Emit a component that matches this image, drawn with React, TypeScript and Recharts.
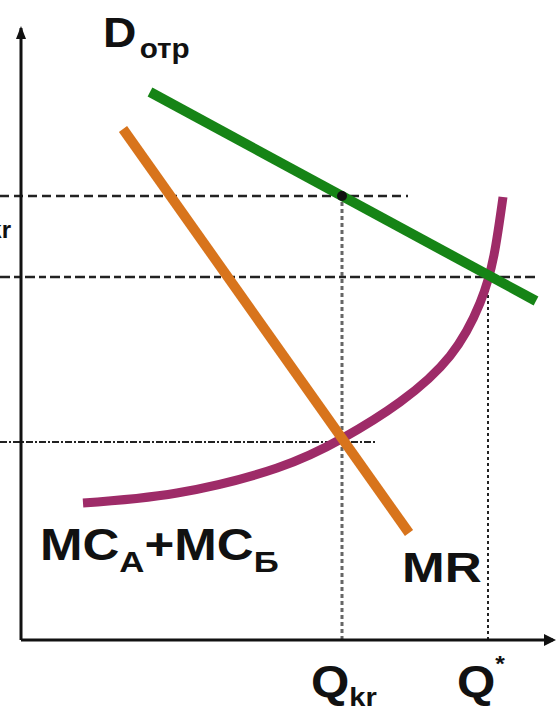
import React from "react";
import { ComposedChart, Line, XAxis, YAxis, ReferenceLine, ReferenceDot } from "recharts";

// units: quantity Q on x, price P on y
const demandQ = [25.8, 103];
const demandP = [109.6, 67.8];

const mrQ = [20.4, 77.6];
const mrP = [102.2, 21.4];

const mcQ = [12.4, 31.2, 51.2, 64.4, 75.8, 85.8, 91.8, 94.6, 96.4];
const mcP = [27.4, 29.4, 34.4, 40.4, 47.6, 56.8, 67.4, 77, 88.6];

const qTicks = [64.2, 93.4];
const qSubs = ["kr", "*"];

const pKr = 88.8; // price at Q_kr on demand
const pStar = 72.6; // price at Q*
const mcAtKr = 39.6; // MC = MR at Q_kr

const toRows = (q: number[], p: number[]) => q.map((v, i) => ({ q: v, p: p[i] }));

const FONT = "'Liberation Sans', Arial, sans-serif";
const DASH = "#222";

const QTick = (props: any) => {
  const { x, y, payload } = props;
  const i = qTicks.indexOf(payload.value);
  const sub = qSubs[i];
  if (sub === "*") {
    return (
      <text transform={`translate(${x - 31},${y + 57}) scale(1.12,1)`} fontFamily={FONT} fontWeight="bold" fontSize={44} fill="#111">
        Q<tspan fontSize={22} dy={-26}>*</tspan>
      </text>
    );
  }
  return (
    <text transform={`translate(${x - 31},${y + 57}) scale(1.12,1)`} fontFamily={FONT} fontWeight="bold" fontSize={44} fill="#111">
      Q<tspan fontSize={26} dy={9}>{sub}</tspan>
    </text>
  );
};

const txt = (content: React.ReactNode, sx: number, extra: any = {}) => (p: any) => (
  <text transform={`translate(${p.cx},${p.cy}) scale(${sx},1)`} fontFamily={FONT} fontWeight="bold" fill="#111" {...extra}>
    {content}
  </text>
);

const arrowUp = (p: any) => (
  <polygon points={`${p.cx},${p.cy - 2} ${p.cx - 5},${p.cy + 11} ${p.cx + 5},${p.cy + 11}`} fill="#111" />
);
const arrowRight = (p: any) => (
  <polygon points={`${p.cx + 3},${p.cy} ${p.cx - 9},${p.cy - 6} ${p.cx - 9},${p.cy + 6}`} fill="#111" />
);

export default function App() {
  return (
    <div style={{ position: "absolute", left: 0, top: 0, width: 556, height: 711, background: "#fff" }}>
      <ComposedChart width={556} height={711} margin={{ top: 28, right: 3, bottom: 0, left: 0 }}>
        <XAxis
          type="number"
          dataKey="q"
          domain={[0, 106.4]}
          ticks={qTicks}
          interval={0}
          height={71}
          tickLine={false}
          tickSize={0}
          tickMargin={0}
          axisLine={{ stroke: "#111", strokeWidth: 3 }}
          tick={<QTick />}
          allowDataOverflow
        />
        <YAxis
          type="number"
          dataKey="p"
          domain={[0, 122.4]}
          width={21}
          tick={false}
          tickLine={false}
          axisLine={{ stroke: "#111", strokeWidth: 3 }}
          allowDataOverflow
        />

        <ReferenceLine segment={[{ x: -4.2, y: pKr }, { x: 77.4, y: pKr }]} stroke={DASH} strokeWidth={2.5} strokeDasharray="9 5" ifOverflow="visible" />
        <ReferenceLine segment={[{ x: -4.2, y: pStar }, { x: 103.2, y: pStar }]} stroke={DASH} strokeWidth={2.5} strokeDasharray="10 4 7 4" ifOverflow="visible" />
        <ReferenceLine segment={[{ x: -4.2, y: mcAtKr }, { x: 70.8, y: mcAtKr }]} stroke={DASH} strokeWidth={2} strokeDasharray="7 2 2 2" ifOverflow="visible" />
        <ReferenceLine segment={[{ x: qTicks[0], y: 0 }, { x: qTicks[0], y: pKr }]} stroke="#666" strokeWidth={3} strokeDasharray="4 3" ifOverflow="visible" />
        <ReferenceLine segment={[{ x: qTicks[1], y: 0 }, { x: qTicks[1], y: pStar }]} stroke={DASH} strokeWidth={2} strokeDasharray="3 3" ifOverflow="visible" />

        <Line data={toRows(mcQ, mcP)} dataKey="p" type="natural" stroke="#9e2b68" strokeWidth={9} dot={false} activeDot={false} isAnimationActive={false} />
        <Line data={toRows(mrQ, mrP)} dataKey="p" type="linear" stroke="#d8741c" strokeWidth={10} dot={false} activeDot={false} isAnimationActive={false} />
        <Line data={toRows(demandQ, demandP)} dataKey="p" type="linear" stroke="#168416" strokeWidth={10} dot={false} activeDot={false} isAnimationActive={false} />

        <ReferenceDot x={qTicks[0]} y={pKr} r={5} fill="#111" stroke="none" />

        <ReferenceDot x={0} y={122.4} r={0} ifOverflow="visible" shape={arrowUp} />
        <ReferenceDot x={106.4} y={0} r={0} ifOverflow="visible" shape={arrowRight} />

        <ReferenceDot
          x={16.4}
          y={118.6}
          r={0}
          ifOverflow="visible"
          shape={txt(<>D<tspan fontSize={27} dy={11} dx={3}>отр</tspan></>, 1.1, { fontSize: 42 })}
        />
        <ReferenceDot
          x={3.8}
          y={16}
          r={0}
          ifOverflow="visible"
          shape={txt(
            <>
              MC<tspan fontSize={30} dy={12}>A</tspan>
              <tspan dy={-12}>+MC</tspan>
              <tspan fontSize={30} dy={12}>Б</tspan>
            </>,
            1.16,
            { fontSize: 44 }
          )}
        />
        <ReferenceDot x={76.2} y={11.6} r={0} ifOverflow="visible" shape={txt("MR", 1.22, { fontSize: 42 })} />
        <ReferenceDot
          x={-2}
          y={80.4}
          r={0}
          ifOverflow="visible"
          shape={txt(<>P<tspan fontSize={24}>kr</tspan></>, 1, { fontSize: 42, textAnchor: "end" })}
        />
      </ComposedChart>
    </div>
  );
}
